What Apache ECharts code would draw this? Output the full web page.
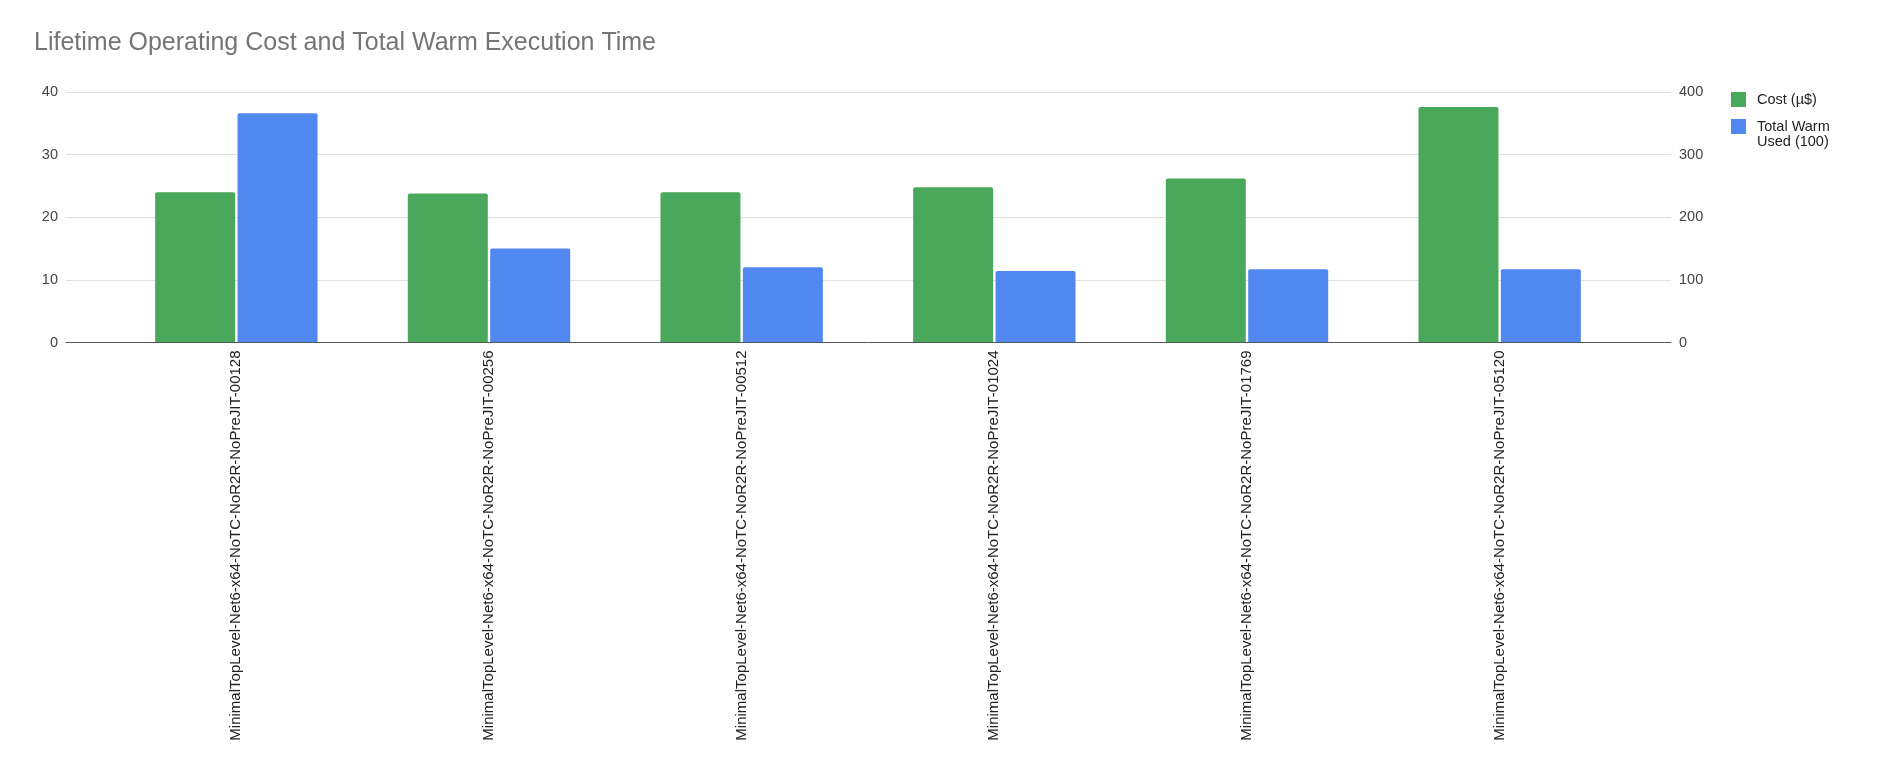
<!DOCTYPE html>
<html><head><meta charset="utf-8">
<script src="https://cdn.jsdelivr.net/npm/echarts@6/dist/echarts.min.js"></script>
<style>html,body{margin:0;padding:0;background:#fff}#c{width:1885px;height:765px}</style>
</head><body><div id="c"></div>
<script>
const titleText = 'Lifetime Operating Cost and Total Warm Execution Time';
const categories = [
  'MinimalTopLevel-Net6-x64-NoTC-NoR2R-NoPreJIT-00128',
  'MinimalTopLevel-Net6-x64-NoTC-NoR2R-NoPreJIT-00256',
  'MinimalTopLevel-Net6-x64-NoTC-NoR2R-NoPreJIT-00512',
  'MinimalTopLevel-Net6-x64-NoTC-NoR2R-NoPreJIT-01024',
  'MinimalTopLevel-Net6-x64-NoTC-NoR2R-NoPreJIT-01769',
  'MinimalTopLevel-Net6-x64-NoTC-NoR2R-NoPreJIT-05120'
];
const seriesNames = ['Cost (µ$)', 'Total Warm Used (100)'];
const costValues = [24.0, 23.8, 24.0, 24.8, 26.2, 37.6];
const warmValues = [366, 150, 120, 114, 117, 117];
const leftAxis = {min: 0, max: 40, interval: 10};
const rightAxis = {min: 0, max: 400, interval: 100};

const FONT = '"Liberation Sans", Arial, sans-serif';
const chart = echarts.init(document.getElementById('c'), null, {renderer: 'canvas'});
const gridTop = 92, gridHeight = 250.5;
chart.setOption({
  animation: false,
  backgroundColor: '#fff',
  textStyle: {fontFamily: FONT},
  title: {
    text: titleText, left: 34, top: 31, padding: 0,
    textStyle: {fontFamily: FONT, fontSize: 25, fontWeight: 'normal', color: '#757575'}
  },
  legend: {
    orient: 'vertical', left: 1731, top: 92, padding: 0,
    itemWidth: 15, itemHeight: 15, itemGap: -3, icon: 'rect',
    formatter: n => n === seriesNames[1] ? '\nTotal Warm\nUsed (100)' : n,
    textStyle: {fontFamily: FONT, fontSize: 14.5, color: '#222', lineHeight: 15, padding: [0, 0, 0, 6]},
    data: seriesNames
  },
  grid: [
    {left: 110, right: 259, top: gridTop, height: gridHeight, containLabel: false},
    {left: 66, right: 214, top: gridTop, height: gridHeight, containLabel: false}
  ],
  xAxis: [
    {
      gridIndex: 0, type: 'category', data: categories,
      axisLine: {show: false}, axisTick: {show: false}, splitLine: {show: false},
      axisLabel: {rotate: 90, interval: 0, margin: 8, fontFamily: FONT, fontSize: 15, color: '#222'}
    },
    {
      gridIndex: 1, type: 'value', min: 0, max: 1, z: 5,
      axisLine: {show: true, onZero: false, lineStyle: {color: '#555', width: 1}},
      axisTick: {show: false}, axisLabel: {show: false}, splitLine: {show: false}
    }
  ],
  yAxis: [
    {
      gridIndex: 1, type: 'value', position: 'left', ...leftAxis,
      axisLine: {show: false}, axisTick: {show: false},
      splitLine: {show: true, lineStyle: {color: '#e0e0e0', width: 1}},
      axisLabel: {margin: 8, fontFamily: FONT, fontSize: 14.5, color: '#444'}
    },
    {
      gridIndex: 1, type: 'value', position: 'right', ...rightAxis,
      axisLine: {show: false}, axisTick: {show: false}, splitLine: {show: false},
      axisLabel: {margin: 8, fontFamily: FONT, fontSize: 14.5, color: '#444'}
    },
    {gridIndex: 0, type: 'value', show: false, ...leftAxis, splitLine: {show: false}},
    {gridIndex: 0, type: 'value', show: false, ...rightAxis, splitLine: {show: false}}
  ],
  series: [
    {
      name: seriesNames[0], type: 'bar', xAxisIndex: 0, yAxisIndex: 2, data: costValues,
      barWidth: 80, barGap: '3%',
      itemStyle: {color: '#4aa85c', borderRadius: [2, 2, 0, 0]}
    },
    {
      name: seriesNames[1], type: 'bar', xAxisIndex: 0, yAxisIndex: 3, data: warmValues,
      barWidth: 80, barGap: '3%',
      itemStyle: {color: '#5188f0', borderRadius: [2, 2, 0, 0]}
    }
  ]
});
</script></body></html>
